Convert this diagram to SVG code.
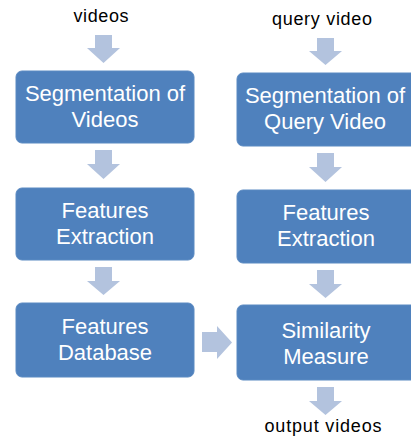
<svg xmlns="http://www.w3.org/2000/svg" width="411" height="441" viewBox="0 0 411 441">
<style>
.box{fill:#4F81BD;stroke:#5B8AC2;stroke-width:1}
.bt{font-family:"Liberation Sans",Arial,sans-serif;font-size:22px;fill:#FFFFFF;text-anchor:middle}
.lb{font-family:"Liberation Sans",Arial,sans-serif;font-size:18px;fill:#000000;text-anchor:middle}
.arr{fill:#B3C3DE}
</style>
<rect width="411" height="441" fill="#FFFFFF"/>
<g id="connectors">
<path class="arr" d="M95,35 H112 V48 H120 L103.5,63 L87,48 H95 Z"/>
<path class="arr" d="M95,150 H112 V164 H120 L103.5,179 L87,164 H95 Z"/>
<path class="arr" d="M95,267 H112 V281 H120 L103.5,295 L87,281 H95 Z"/>
<path class="arr" d="M317,38 H334 V51 H342 L325.5,65 L309,51 H317 Z"/>
<path class="arr" d="M317,153 H334 V167 H342 L325.5,182 L309,167 H317 Z"/>
<path class="arr" d="M317,270 H334 V284 H342 L325.5,298 L309,284 H317 Z"/>
<path class="arr" d="M317,387 H334 V401 H342 L325.5,415 L309,401 H317 Z"/>
<path class="arr" d="M202,332 H217 V326 L232,342.5 L217,359 V352 H202 Z"/>
</g>
<g id="label-videos"><text class="lb" x="101" y="22" textLength="55" lengthAdjust="spacing">videos</text></g>
<g id="label-query"><text class="lb" x="322" y="25" textLength="100" lengthAdjust="spacing">query video</text></g>
<g id="label-output"><text class="lb" x="323" y="432" textLength="117" lengthAdjust="spacing">output videos</text></g>
<g id="seg-videos">
<rect class="box" x="16" y="71" width="178" height="72" rx="6"/>
<text class="bt" x="105" y="101">Segmentation of</text>
<text class="bt" x="105" y="127">Videos</text>
</g>
<g id="feat-extract-left">
<rect class="box" x="16" y="188" width="178" height="72" rx="6"/>
<text class="bt" x="105" y="218">Features</text>
<text class="bt" x="105" y="244">Extraction</text>
</g>
<g id="feat-db">
<rect class="box" x="16" y="303" width="178" height="74" rx="6"/>
<text class="bt" x="105" y="334">Features</text>
<text class="bt" x="105" y="360">Database</text>
</g>
<g id="seg-query">
<rect class="box" x="237" y="73" width="180" height="73" rx="6"/>
<text class="bt" x="325" y="103">Segmentation of</text>
<text class="bt" x="325" y="129">Query Video</text>
</g>
<g id="feat-extract-right">
<rect class="box" x="237" y="190" width="180" height="73" rx="6"/>
<text class="bt" x="326" y="220">Features</text>
<text class="bt" x="326" y="246">Extraction</text>
</g>
<g id="similarity">
<rect class="box" x="237" y="305" width="180" height="75" rx="6"/>
<text class="bt" x="326" y="338">Similarity</text>
<text class="bt" x="326" y="364">Measure</text>
</g>
</svg>
